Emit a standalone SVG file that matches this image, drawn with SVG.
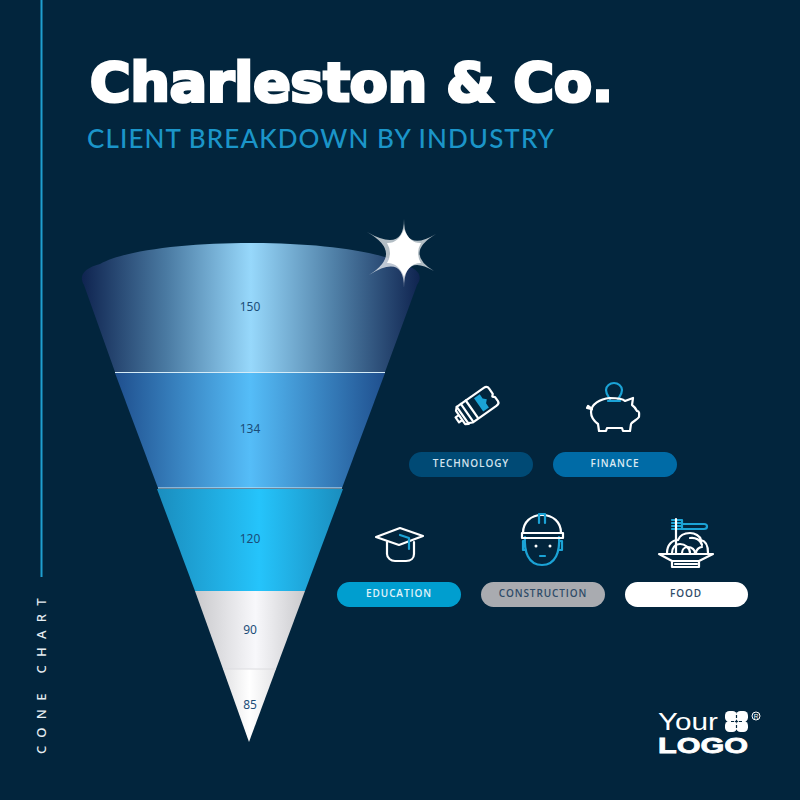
<svg xmlns="http://www.w3.org/2000/svg" width="800" height="800" viewBox="0 0 800 800">
<style>
.sans{font-family:"Noto Sans","Liberation Sans",sans-serif}
.val{font-family:"Noto Sans","Liberation Sans",sans-serif;font-size:12px;text-anchor:middle;fill:#1b4d78}
.lab{font-family:"Open Sans","Liberation Sans",sans-serif;font-size:10px;font-weight:600;letter-spacing:.9px;text-anchor:middle}
.w{fill:none;stroke:#fff;stroke-width:2.200;stroke-linejoin:round;stroke-linecap:round}
.b{fill:none;stroke:#1ba3d6;stroke-width:2.200;stroke-linejoin:round;stroke-linecap:round}
</style>
<defs>
<linearGradient id="g1" x1="0" x2="1" y1="0" y2="0"><stop offset="0" stop-color="#0f2450"/><stop offset=".25" stop-color="#4a7aa2"/><stop offset=".5" stop-color="#97d8fb"/><stop offset=".75" stop-color="#4f7fa6"/><stop offset="1" stop-color="#0f2450"/></linearGradient>
<linearGradient id="g2" x1="0" x2="1" y1="0" y2="0"><stop offset="0" stop-color="#1f4f8e"/><stop offset=".5" stop-color="#55bdf8"/><stop offset="1" stop-color="#1f4f8e"/></linearGradient>
<linearGradient id="g3" x1="0" x2="1" y1="0" y2="0"><stop offset="0" stop-color="#1a8dbe"/><stop offset=".55" stop-color="#25c4fb"/><stop offset="1" stop-color="#1a8dbe"/></linearGradient>
<linearGradient id="g4" x1="0" x2="1" y1="0" y2="0"><stop offset="0" stop-color="#c9c9cc"/><stop offset=".55" stop-color="#f8f8fb"/><stop offset="1" stop-color="#c9c9cc"/></linearGradient>
<linearGradient id="g5" x1="0" x2="1" y1="0" y2="0"><stop offset="0" stop-color="#e2e2e4"/><stop offset=".5" stop-color="#fff"/><stop offset="1" stop-color="#e4e4e6"/></linearGradient>
</defs>
<rect width="800" height="800" fill="#02253d"/>
<rect x="40.500" y="0" width="2" height="577" fill="#1f9fd0"/>
<text transform="translate(46,754) rotate(-90)" class="sans" font-size="13" font-weight="500" letter-spacing="8.300" fill="#e6edf2">CONE CHART</text>
<text x="90" y="101" font-family="'DejaVu Sans',sans-serif" font-weight="700" font-size="54" fill="#fff" stroke="#fff" stroke-width="3.200" textLength="523" lengthAdjust="spacingAndGlyphs">Charleston &amp; Co.</text>
<text x="87" y="148" font-family="'Lato','Noto Sans',sans-serif" font-size="26" font-weight="500" fill="#1b95c9" textLength="467">CLIENT BREAKDOWN BY INDUSTRY</text>
<g id="cone">
<g id="seg-150"><path d="M115 372 L84 285 C78 275 85 268 100 264 C150 236 352 236 402 264 C417 268 424 275 417 285 L385 372Z" fill="url(#g1)"/><text class="val" x="250" y="311">150</text></g>
<g id="seg-134"><path d="M115 373H385L342 488H158Z" fill="url(#g2)"/><text class="val" x="250" y="433">134</text></g>
<g id="seg-120"><path d="M157 489H343L305 591H195Z" fill="url(#g3)"/><text class="val" x="250" y="543">120</text></g>
<g id="seg-90"><path d="M195 591H305L276 669H223Z" fill="url(#g4)"/><text class="val" x="250" y="634">90</text></g>
<g id="seg-85"><path d="M223 669H276L249 742Z" fill="url(#g5)"/><text class="val" x="250" y="709">85</text></g>
<path d="M115 372.500H385M158 488H342" stroke="#d5ecf8" stroke-width="1.100"/>
<path d="M223 669H276" stroke="#dcdce0" stroke-width="1"/>
</g>
<g id="star">
<path d="M404 219 Q404 253 436 234 Q404 253 434 271 Q404 253 404 288 Q404 253 369 275 Q404 253 367 232 Q404 253 404 219Z" fill="#fff" opacity=".7"/>
<path d="M404 229 Q409.500 243.500 421 243 Q415 253 421 263 Q409.500 262.500 404 277 Q398.500 262.500 387 263 Q393 253 387 243 Q398.500 243.500 404 229Z" fill="#fff"/>
<circle cx="404" cy="253" r="12" fill="#fff"/>
</g>
<g id="technology">
<g transform="rotate(-35 475 405)"><path class="w" d="M459 396h33q4 0 4 4v6l-2 2 2 2v5q0 3-4 3h-29l-4-2z"/><path class="w" d="M459 396l-3 3v16l3 2M464 396v21M470 396v21M456 404h-4v6h4"/><path d="M478 399h7v5l3 3-3 3v5h-7z" fill="#1ba3d6"/></g>
<rect x="409" y="452" width="124" height="25" rx="12.500" fill="#004a75"/>
<text class="lab" x="471" y="467" fill="#d3e3ee">TECHNOLOGY</text>
</g>
<g id="finance">
<path class="b" d="M610 399c-2-3-4-5-4-9 0-4 4-7 8-7s8 3 8 7c0 4-2 6-4 9M608 401h12"/>
<path class="w" d="M625 401l8-3-1 7c3 2 4 4 5 6 3 0 2 4 2 6-2 3-6 4-8 7l-1 7h-7l-1-3h-15l-1 3h-7l-1-7c-4-3-7-7-7-12 0-8 9-13 19-14 6 0 12 0 15 3z"/>
<path class="w" d="M592 409l-4-3-1 2 4 1"/>
<rect x="553" y="452" width="124" height="25" rx="12.500" fill="#006ba6"/>
<text class="lab" x="615" y="467" fill="#dbe9f2">FINANCE</text>
</g>
<g id="education">
<path class="w" d="M387 542v12c0 4 4 7 8 7h11c5 0 8-3 8-7v-12"/>
<path class="w" d="M376 537l24-9 23 8-24 9z"/>
<path class="b" d="M400 535l9 3v11"/>
<rect x="337" y="582" width="124" height="25" rx="12.500" fill="#009ecf"/>
<text class="lab" x="399" y="597" fill="#e0f3fa">EDUCATION</text>
</g>
<g id="construction">
<path class="b" d="M525 537c-1 14 3 28 17 28s18-14 17-28M525 541h-2v9h3M559 541h3v9h-3"/>
<path class="w" d="M523 533c0-11 8-18 19-18s19 7 19 18"/>
<path class="w" d="M522 533h41v5h-41z"/>
<path class="b" d="M539 523v-9h6v9"/>
<circle cx="536" cy="546" r="1.500" fill="#fff"/><circle cx="550" cy="546" r="1.500" fill="#fff"/>
<path class="b" d="M540 556h5"/>
<rect x="481" y="582" width="124" height="25" rx="12.500" fill="#a9abb0"/>
<text class="lab" x="543" y="597" fill="#2f4c68">CONSTRUCTION</text>
</g>
<g id="food">
<path class="b" d="M682 524h22q3 0 3 2.500t-3 2.500h-22zM672 520h10v9h-10M672 523h9M672 526h9"/>
<path class="w" stroke-width="1.500" d="M676 519v34"/>
<path class="w" stroke-width="1.500" d="M667 553c0-8 5-13 11-13 2-5 7-7 12-7s10 3 11 7c5 1 7 7 7 13M672 553c0-5 3-9 8-9s10 4 10 9M682 553c0-3 2-6 6-6s7 3 7 6M690 538c5-1 11 2 12 7M696 553c0-3 3-6 6-6"/>
<path class="w" d="M659 554h54l-14 7h-27zM672 561v6h27v-6M675 564h22"/>
<rect x="625" y="582" width="123" height="25" rx="12.500" fill="#fff"/>
<text class="lab" x="686" y="597" fill="#2f4c68">FOOD</text>
</g>
<g id="logo">
<text x="658" y="730" font-family="'Liberation Sans',sans-serif" font-size="24" fill="#fff" textLength="60" lengthAdjust="spacingAndGlyphs">Your</text>
<text x="658" y="753" font-family="'Liberation Sans',sans-serif" font-weight="700" font-size="22" fill="#fff" stroke="#fff" stroke-width=".8" textLength="90" lengthAdjust="spacingAndGlyphs">LOGO</text>
<g fill="#fff"><rect x="725" y="711" width="12" height="11" rx="4.500"/><rect x="736" y="711" width="12" height="11" rx="4.500"/><rect x="725" y="721" width="12" height="11" rx="4.500"/><rect x="736" y="721" width="12" height="11" rx="4.500"/></g>
<path d="M736.500 715v3M736.500 725v3M731 721.500h3M739 721.500h3" stroke="#02253d" stroke-width="1.200"/>
<circle cx="756" cy="716" r="4" fill="none" stroke="#fff" stroke-width="1"/>
<text x="756" y="718.500" text-anchor="middle" font-family="'Liberation Sans',sans-serif" font-size="6.500" fill="#fff">R</text>
</g>
</svg>
